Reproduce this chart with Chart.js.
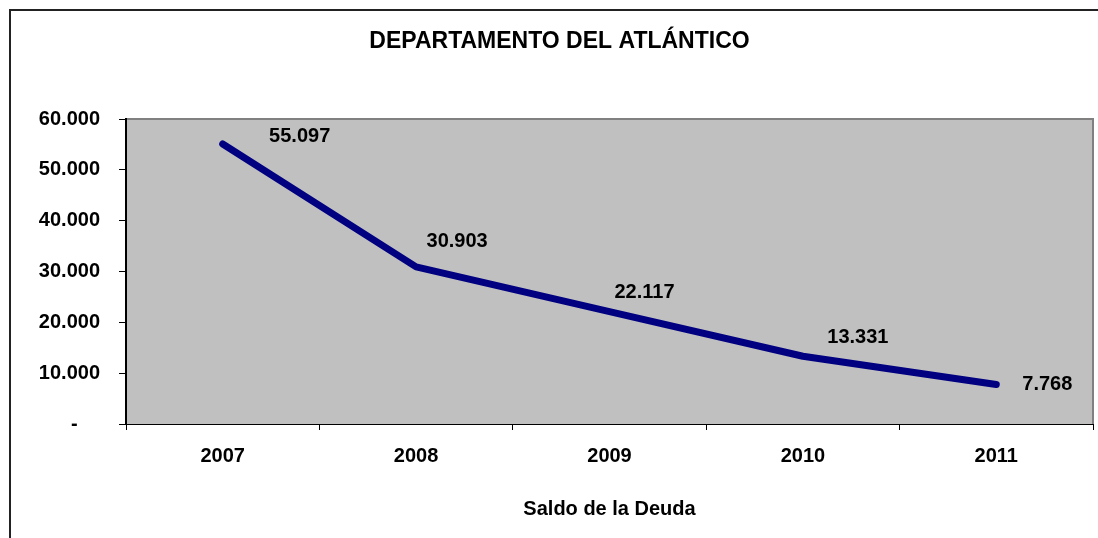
<!DOCTYPE html>
<html>
<head>
<meta charset="utf-8">
<script src="https://cdn.jsdelivr.net/npm/chart.js@4.4.1/dist/chart.umd.min.js"></script>
<style>
  html, body { margin: 0; padding: 0; background: #fff; }
  #wrap { width: 1098px; height: 538px; position: relative; }
</style>
</head>
<body>
<div id="wrap"><canvas id="chart" width="1098" height="538"></canvas></div>
<script>
const years = ["2007", "2008", "2009", "2010", "2011"]
const saldoDeuda = [55097, 30903, 22117, 13331, 7768]
const yTicks = [0, 10000, 20000, 30000, 40000, 50000, 60000]

const FONT = "'Liberation Sans', Arial, sans-serif"

// miles con punto, como en el original
function fmt(v) {
  return String(Math.round(v)).replace(/\B(?=(\d{3})+(?!\d))/g, ".")
}

const frame = {
  id: "frame",
  beforeDraw(chart) {
    const { ctx, chartArea: a } = chart
    ctx.save()
    // marco exterior (solo izquierda y arriba se ven)
    ctx.strokeStyle = "#222"
    ctx.lineWidth = 2
    ctx.beginPath()
    ctx.moveTo(10, chart.height)
    ctx.lineTo(10, 10)
    ctx.lineTo(chart.width, 10)
    ctx.stroke()
    // fondo gris del área de trazado
    ctx.fillStyle = "#C0C0C0"
    ctx.fillRect(a.left, a.top, a.right - a.left, a.bottom - a.top)
    ctx.strokeStyle = "#808080"
    ctx.lineWidth = 2
    ctx.beginPath()
    ctx.moveTo(a.left, a.top)
    ctx.lineTo(a.right, a.top)
    ctx.lineTo(a.right, a.bottom)
    ctx.stroke()
    ctx.restore()
  }
}

const valueLabels = {
  id: "valueLabels",
  afterDatasetsDraw(chart, args, opts) {
    const { ctx } = chart
    const meta = chart.getDatasetMeta(0)
    ctx.save()
    ctx.font = "bold 20px " + FONT
    ctx.fillStyle = "#000"
    ctx.textAlign = "center"
    ctx.textBaseline = "middle"
    meta.data.forEach((pt, i) => {
      const [dx, dy] = opts.offsets[i]
      ctx.fillText(fmt(saldoDeuda[i]), pt.x + dx, pt.y + dy)
    })
    ctx.restore()
  }
}

new Chart(document.getElementById("chart"), {
  type: "line",
  data: {
    labels: years,
    datasets: [{
      label: "Saldo de la Deuda",
      data: saldoDeuda,
      borderColor: "#000080",
      borderWidth: 7,
      borderCapStyle: "round",
      borderJoinStyle: "round",
      pointRadius: 0,
      tension: 0,
      fill: false
    }]
  },
  options: {
    responsive: false,
    animation: false,
    layout: { padding: { top: 0, right: 5, bottom: 0, left: 26 } },
    plugins: {
      legend: { display: false },
      tooltip: { enabled: false },
      title: {
        display: true,
        text: "DEPARTAMENTO DEL ATLÁNTICO",
        color: "#000",
        font: { family: FONT, size: 23, weight: "bold", lineHeight: 1.2 },
        padding: { top: 27.5, bottom: 63.9 }
      },
      valueLabels: {
        offsets: [[77, -7], [41, -25], [35, -19], [55, -19], [51, 0]]
      }
    },
    scales: {
      x: {
        offset: true,
        afterFit: (s) => { s.height = 114 },
        grid: {
          offset: true,
          drawOnChartArea: false,
          drawTicks: true,
          tickLength: 6,
          color: "#000"
        },
        border: { color: "#000", width: 1 },
        ticks: {
          color: "#000",
          padding: 14,
          font: { family: FONT, size: 20, weight: "bold" }
        },
        title: {
          display: true,
          text: "Saldo de la Deuda",
          color: "#000",
          font: { family: FONT, size: 20, weight: "bold", lineHeight: 1.2 },
          padding: { top: 0, bottom: 17 }
        }
      },
      y: {
        min: 0,
        max: 60000,
        afterFit: (s) => { s.width = 100 },
        afterBuildTicks: (s) => { s.ticks = yTicks.map(v => ({ value: v })) },
        grid: {
          drawOnChartArea: false,
          drawTicks: true,
          tickLength: 7,
          color: "#000"
        },
        border: { color: "#000", width: 2 },
        ticks: {
          color: "#000",
          padding: 19,
          font: { family: FONT, size: 20, weight: "bold" },
          callback: (v) => v === 0 ? "-    " : fmt(v)
        }
      }
    }
  },
  plugins: [frame, valueLabels]
})
</script>
</body>
</html>
